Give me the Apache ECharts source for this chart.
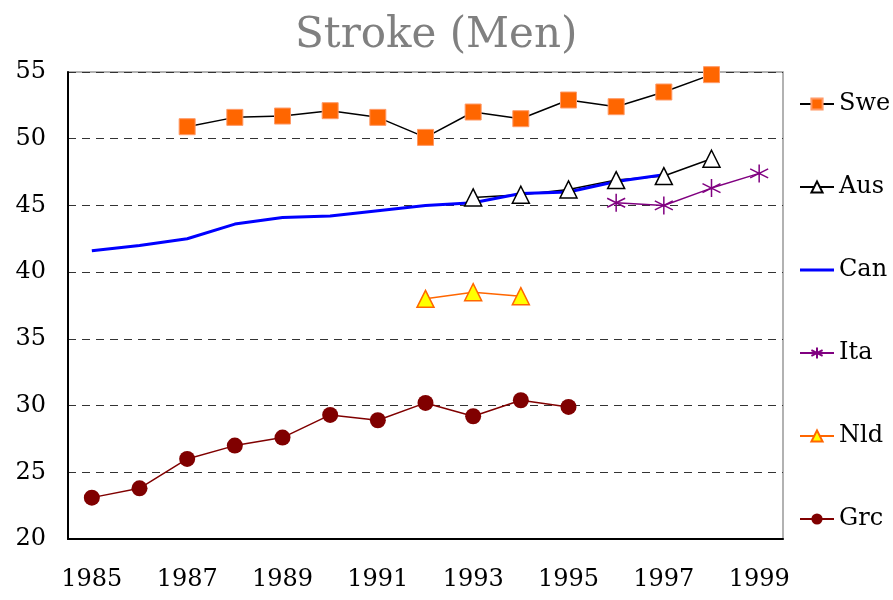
<!DOCTYPE html>
<html>
<head>
<meta charset="utf-8">
<script src="https://cdn.jsdelivr.net/npm/echarts@6/dist/echarts.min.js"></script>
<style>
  html, body { margin: 0; padding: 0; background: #fff; }
  #chart { width: 893px; height: 600px; }
</style>
</head>
<body>
<div id="chart"></div>
<script>
  var years = ['1985','1986','1987','1988','1989','1990','1991','1992','1993','1994','1995','1996','1997','1998','1999'];
  var yTicks = [20, 25, 30, 35, 40, 45, 50, 55];

  var swe = [null, null, 50.9, 51.6, 51.7, 52.1, 51.6, 50.1, 52.0, 51.5, 52.9, 52.4, 53.5, 54.8, null];
  var aus = [null, null, null, null, null, null, null, null, 45.6, 45.8, 46.2, 46.9, 47.2, 48.5, null];
  var can = [41.6, 42.0, 42.5, 43.6, 44.1, 44.2, 44.6, 45.0, 45.2, 45.9, 46.0, 46.8, 47.3, null, null];
  var ita = [null, null, null, null, null, null, null, null, null, null, null, 45.2, 45.0, 46.3, 47.4];
  var nld = [null, null, null, null, null, null, null, 38.0, 38.5, 38.2, null, null, null, null, null];
  var grc = [23.1, 23.8, 26.0, 27.0, 27.6, 29.3, 28.9, 30.2, 29.2, 30.4, 29.9, null, null, null, null];

  var serif = 'DejaVu Serif';
  var asterisk = 'path://M0,-10L0,10M-8.66,-5L8.66,5M-8.66,5L8.66,-5';

  /*-----stroke chart-----*/
  var seriesData = [
    { name: 'Swe', type: 'line', data: swe, symbol: 'rect', symbolSize: 16,
      itemStyle: { color: '#FF6600', borderColor: '#FF9966', borderWidth: 1 },
      lineStyle: { color: '#000', width: 1.5 } },
    { name: 'Aus', type: 'line', data: aus, symbol: 'triangle', symbolSize: 17,
      itemStyle: { color: '#fff', borderColor: '#000', borderWidth: 1.5 },
      lineStyle: { color: '#000', width: 1.5 } },
    { name: 'Can', type: 'line', data: can, symbol: 'none',
      itemStyle: { color: '#0000FF' }, lineStyle: { color: '#0000FF', width: 3 } },
    { name: 'Ita', type: 'line', data: ita, symbol: asterisk, symbolSize: 18,
      itemStyle: { color: '#800080', borderColor: '#800080', borderWidth: 1.5 },
      lineStyle: { color: '#800080', width: 1.5 } },
    { name: 'Nld', type: 'line', data: nld, symbol: 'triangle', symbolSize: 17,
      itemStyle: { color: '#FFFF00', borderColor: '#FF6600', borderWidth: 1.5 },
      lineStyle: { color: '#FF6600', width: 1.5 } },
    { name: 'Grc', type: 'line', data: grc, symbol: 'circle', symbolSize: 16,
      itemStyle: { color: '#800000' }, lineStyle: { color: '#800000', width: 1.5 } }
  ];

  var option = {
    animation: false,
    backgroundColor: '#fff',
    title: {
      text: 'Stroke (Men)', left: 290, top: 10,
      textStyle: { fontFamily: serif, fontSize: 42, fontWeight: 'normal', color: '#808080' }
    },
    grid: { left: 68, right: 110, top: 72, bottom: 61, show: true, borderColor: '#999', borderWidth: 1.5 },
    legend: {
      orient: 'vertical', left: 794, top: 85,
      itemWidth: 34, itemHeight: 14, itemGap: 55,
      data: ['Swe', 'Aus', { name: 'Can', icon: 'path://M0,5.5L34,5.5L34,8.5L0,8.5Z' }, 'Ita', 'Nld', 'Grc'],
      textStyle: { fontFamily: serif, fontSize: 24, color: '#000', lineHeight: 28 }
    },
    xAxis: {
      type: 'category', data: years, boundaryGap: true,
      axisLine: { lineStyle: { color: '#000', width: 2 } },
      axisTick: { inside: true, length: 7, interval: 1, lineStyle: { color: '#000', width: 1 } },
      axisLabel: { interval: 1, fontFamily: serif, fontSize: 24, color: '#000', margin: 29 },
      splitLine: { show: false }
    },
    yAxis: {
      type: 'value', min: yTicks[0], max: yTicks[yTicks.length - 1], interval: 5,
      axisLine: { show: true, lineStyle: { color: '#000', width: 2 } },
      axisTick: { show: false },
      axisLabel: { fontFamily: serif, fontSize: 24, color: '#000', margin: 22 },
      splitLine: { lineStyle: { color: '#333', type: [8, 6], width: 1 } }
    },
    series: seriesData
  };

  var chart = echarts.init(document.getElementById('chart'));
  chart.setOption(option);
</script>
</body>
</html>
